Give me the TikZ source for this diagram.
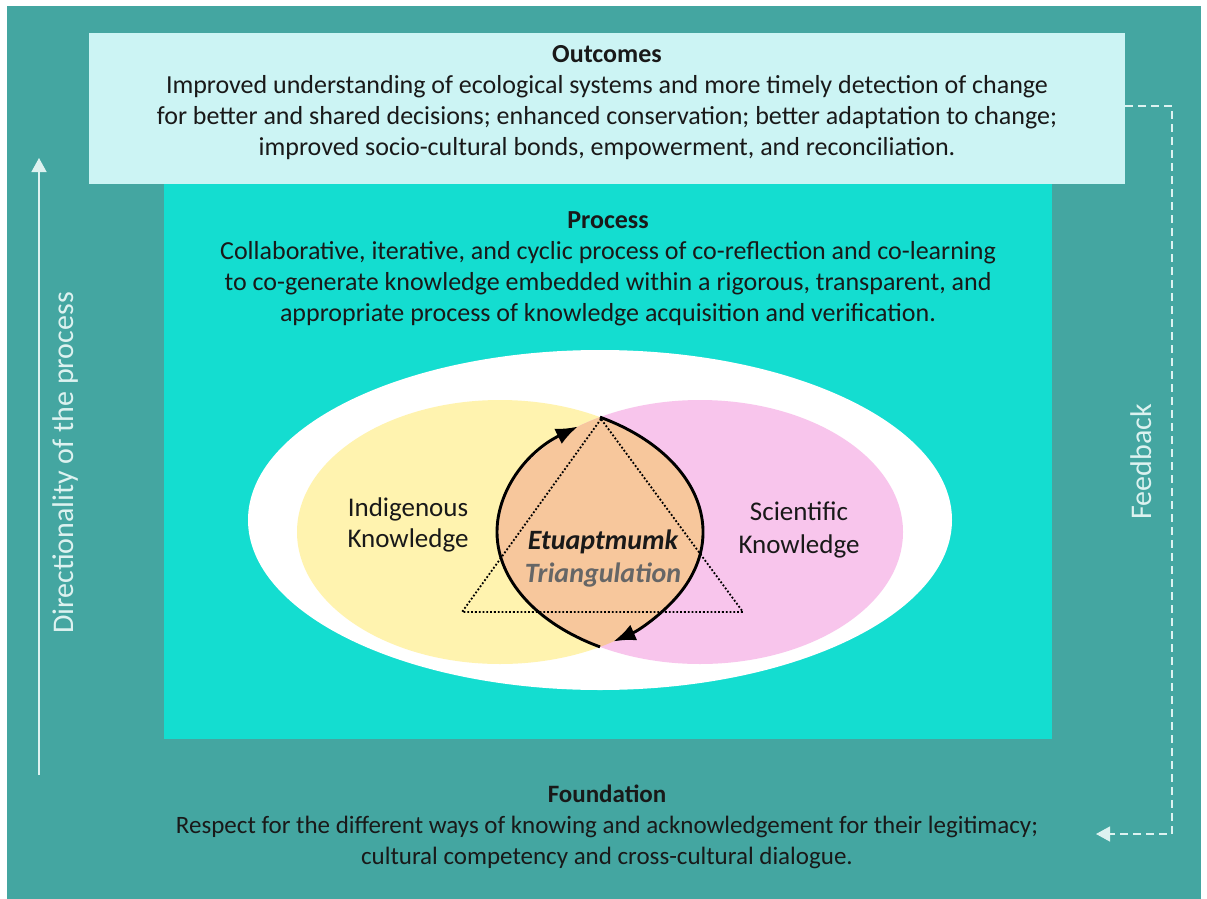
\documentclass[tikz,border=0pt]{standalone}
\usepackage{fontspec}
\setmainfont{Carlito}
\usetikzlibrary{arrows.meta}
\definecolor{outerteal}{HTML}{44A6A1}
\definecolor{outfill}{HTML}{CCF4F4}
\definecolor{procfill}{HTML}{14DDD0}
\definecolor{yellowk}{HTML}{FFF3AF}
\definecolor{pinkk}{HTML}{F8C5EC}
\definecolor{peachk}{HTML}{F7C79C}
\definecolor{lighttxt}{HTML}{DDF2F0}
\definecolor{trigray}{HTML}{666666}
\begin{document}
\begin{tikzpicture}[x=1pt,y=1pt,
  txt/.style={font=\fontsize{26}{31}\selectfont, align=center, inner sep=0pt, text=black!90},
  sidetxt/.style={font=\fontsize{30}{36}\selectfont, inner sep=0pt, rotate=90, text=lighttxt},
  panel/.style={inner sep=0pt, outer sep=0pt, anchor=north west},
  lensarrow/.style={line width=2.9pt, -{Latex[length=22pt,width=17pt]}},
  sidearrow/.style={draw=lighttxt, line width=1.4pt, -{Triangle[length=14pt,width=15pt]}},
  fbline/.style={draw=lighttxt, line width=1.4pt, dash pattern=on 8pt off 5pt, -{Triangle[length=14pt,width=15pt,fill=lighttxt]}}]
\useasboundingbox (0,0) rectangle (1207,-899);
\fill[white] (0,0) rectangle (1207,-899);
\fill[outerteal] (7,-6) rectangle (1201,-899);
% panels
\node[panel, fill=procfill, minimum width=888pt, minimum height=555pt] (procbox) at (164,-184) {};
\node[panel, fill=outfill, minimum width=1036pt, minimum height=151pt] (outbox) at (89,-33) {};
% ellipses
\fill[white] (600,-520) ellipse [x radius=352, y radius=170];
\fill[yellowk] (500,-532) ellipse [x radius=203, y radius=132];
\fill[pinkk] (700,-532) ellipse [x radius=203, y radius=132];
\begin{scope}
  \clip (500,-532) ellipse [x radius=203, y radius=132];
  \fill[peachk] (700,-532) ellipse [x radius=203, y radius=132];
\end{scope}
% triangle
\coordinate (tA) at (601,-419);
\coordinate (tB) at (462,-612);
\coordinate (tC) at (743,-612);
\draw[dotted, line width=1.8pt] (tA) -- (tB) -- (tC) -- cycle;
% lens arrows
\coordinate (lensBot) at ([shift={(240.5:203 and 132)}]700,-532);
\coordinate (lensTop) at ([shift={(60.5:203 and 132)}]500,-532);
\draw[lensarrow] (lensBot) arc [start angle=240.5, end angle=127, x radius=203, y radius=132];
\draw[lensarrow] (lensTop) arc [start angle=60.5, end angle=-56, x radius=203, y radius=132];
% texts
\node[txt] (outtxt) at (607,-103) {\textbf{Outcomes}\\
Improved understanding of ecological systems and more timely detection of change\\
for better and shared decisions; enhanced conservation; better adaptation to change;\\
improved socio-cultural bonds, empowerment, and reconciliation.};
\node[txt] (proctxt) at (608,-269) {\textbf{Process}\\
Collaborative, iterative, and cyclic process of co-reflection and co-learning\\
to co-generate knowledge embedded within a rigorous, transparent, and\\
appropriate process of knowledge acquisition and verification.};
\node[txt, font=\fontsize{25}{31}\selectfont] (foundtxt) at (607,-827) {\textbf{Foundation}\\
Respect for the different ways of knowing and acknowledgement for their legitimacy;\\
cultural competency and cross-cultural dialogue.};
\node[txt, font=\fontsize{27}{31}\selectfont] (ik) at (408,-525) {Indigenous\\Knowledge};
\node[txt, font=\fontsize{27}{33}\selectfont] (sk) at (799,-530) {Scientific\\Knowledge};
\node[txt, font=\fontsize{28}{31}\selectfont\bfseries\itshape] (etu) at (603,-542) {Etuaptmumk};
\node[txt, font=\fontsize{28}{31}\selectfont\bfseries\itshape, text=trigray] (tri) at (603,-575) {Triangulation};
% directionality arrow
\coordinate (dirS) at (39,-775);
\coordinate (dirE) at (39,-158);
\draw[sidearrow] (dirS) -- (dirE);
\node[sidetxt] (dirtxt) at (66,-463) {Directionality of the process};
% feedback
\coordinate (fb0) at (1125,-106);
\coordinate (fb1) at (1172,-106);
\coordinate (fb2) at (1172,-834);
\coordinate (fb3) at (1096,-834);
\draw[fbline] (fb0) -- (fb1) -- (fb2) -- (fb3);
\node[sidetxt] (fbtxt) at (1141,-462) {Feedback};
\end{tikzpicture}
\end{document}
